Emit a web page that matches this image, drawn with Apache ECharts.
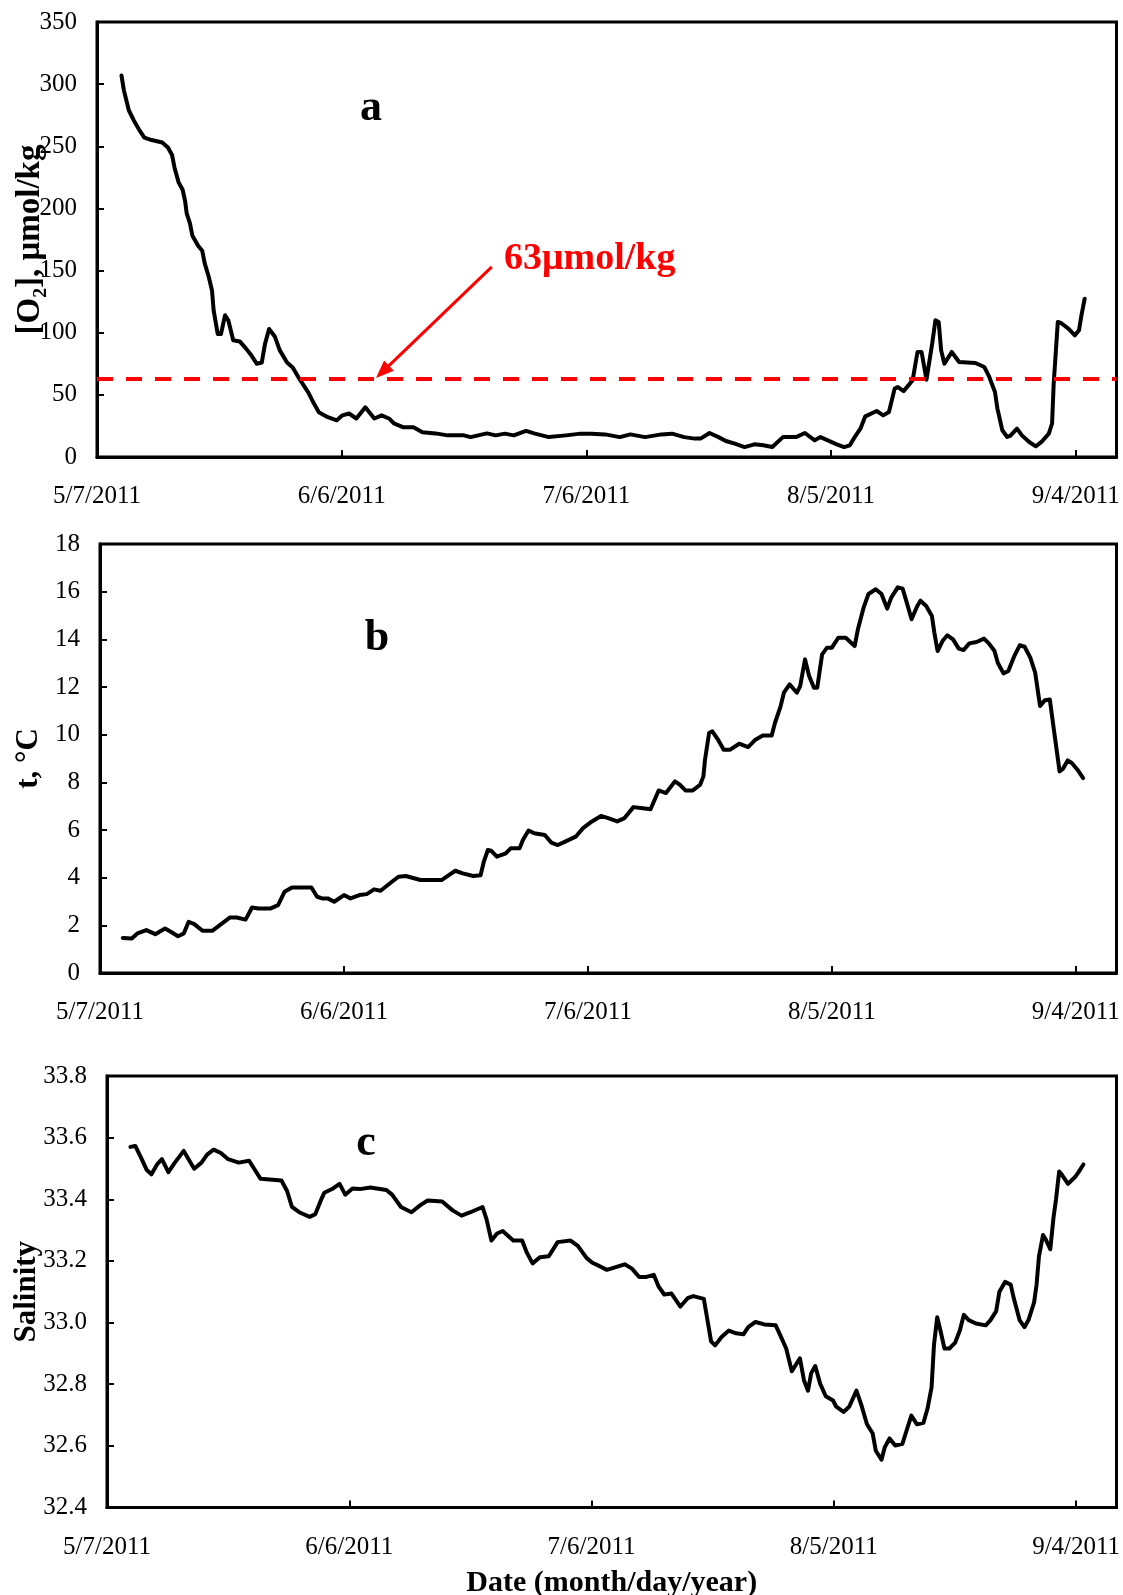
<!DOCTYPE html>
<html>
<head>
<meta charset="utf-8">
<title>Dissolved oxygen, temperature and salinity, May–September 2011</title>
<script src="https://cdn.jsdelivr.net/npm/echarts@6/dist/echarts.min.js"></script>
<style>
  html, body { margin: 0; padding: 0; background: #fff; }
  #chart { width: 1123px; height: 1595px; }
</style>
</head>
<body>
<div id="chart"></div>
<script>
// Time is counted in days since 5/7/2011.
const START_DATE = Date.UTC(2011, 4, 7);
const X_MAX_DAYS = 125;
const X_TICK_DAYS = 30;

// Panel a: dissolved oxygen, µmol/kg
const o2Days = [3.0, 3.3, 3.9, 4.5, 5.2, 5.8, 6.7, 8.0, 8.7, 9.2, 9.5, 10.0, 10.5, 10.8, 11.0, 11.4, 11.7, 12.4, 12.9, 13.2,
  13.7, 14.1, 14.3, 14.8, 15.2, 15.7, 16.1, 16.7, 17.5, 18.3, 18.9, 19.6, 20.2, 20.6, 21.1, 21.8, 22.4, 23.3, 24.0, 24.8,
  25.9, 26.6, 27.2, 28.3, 29.4, 30.1, 30.9, 31.8, 32.9, 34.0, 34.9, 35.8, 36.4, 37.5, 38.8, 39.9, 41.5, 43.0, 45.0, 45.8,
  47.8, 48.9, 50.0, 51.1, 52.6, 53.7, 55.4, 57.5, 59.3, 60.6, 62.3, 64.1, 65.4, 67.2, 69.2, 70.5, 72.0, 73.3, 74.0, 75.1,
  76.2, 77.1, 78.2, 79.4, 80.6, 81.7, 82.8, 84.1, 85.7, 86.8, 88.0, 88.7, 89.6, 90.7, 91.6, 92.3, 92.9, 93.6, 94.2, 95.6,
  96.4, 97.1, 97.8, 98.2, 98.9, 100.0, 100.6, 101.1, 101.7, 102.4, 102.8, 103.2, 103.5, 103.9, 104.8, 105.7, 107.7, 108.8, 109.4, 110.1,
  110.4, 111.0, 111.6, 112.0, 112.8, 113.4, 114.3, 115.1, 115.8, 116.7, 117.1, 117.3, 117.8, 118.2, 119.1, 119.9, 120.4, 120.7, 121.1];
const o2Values = [307, 295, 279, 271, 263, 257, 255, 253, 249, 243, 233, 221, 215, 206, 196, 188, 178, 170, 166, 156,
  145, 134, 118, 99, 99, 114, 110, 94, 93, 87, 82, 75, 76, 91, 103, 97, 86, 76, 72, 63,
  52, 43, 36, 32, 29.5, 33.5, 35, 31, 40, 31, 33.5, 31, 27, 24, 24, 20, 19, 17.4, 17.4, 16,
  19, 17.4, 18.8, 17.4, 21, 18.8, 16, 17.4, 18.8, 18.8, 18.2, 16, 18.2, 16, 18.2, 18.8, 16, 14.8, 14.8, 19.3,
  16, 12.9, 10.7, 8.0, 10.2, 9.4, 8.0, 16, 16, 19.3, 13.4, 16, 13.4, 10.2, 8.0, 9.4, 16, 22.8, 32.7, 37,
  33.5, 36.2, 55, 56.3, 53, 61.7, 84.5, 84.5, 62.2, 91.2, 110, 108.6, 85.8, 75.1, 84.5, 76.4, 75.6, 72.4, 64.4, 52.3,
  38.9, 21.5, 16.1, 17.2, 22.8, 17.4, 12.1, 8.6, 12.1, 18.8, 26.8, 59, 108.6, 107.8, 103.3, 97.9, 101.9, 114, 127.4];

// Hypoxia threshold and the arrow pointing at it (data coordinates: [day, µmol/kg])
const THRESHOLD = 63;
const THRESHOLD_TEXT = '63μmol/kg';
const arrowFrom = [48.4, 153];
const arrowTo = [35.0, 68.5];

// Panel b: temperature, °C
const tempDays = [2.8, 3.9, 4.6, 5.7, 6.8, 8.0, 8.7, 9.6, 10.3, 10.9, 11.6, 12.6, 13.8, 14.9, 16.0, 16.8, 17.9, 18.7, 19.5, 21.0,
  21.9, 22.7, 23.6, 26.0, 26.7, 27.3, 28.0, 28.8, 30.0, 30.8, 31.9, 32.8, 33.7, 34.5, 35.9, 36.7, 37.6, 39.4, 42.0, 42.9,
  43.7, 44.6, 45.9, 46.8, 47.2, 47.7, 48.1, 48.8, 49.9, 50.5, 51.6, 52.0, 52.7, 53.4, 54.7, 55.5, 56.3, 57.2, 58.5, 59.4,
  60.5, 61.6, 62.5, 63.6, 64.5, 65.6, 66.5, 67.7, 68.3, 68.7, 69.6, 70.7, 71.3, 72.0, 72.9, 73.8, 74.2, 74.4, 74.9, 75.3,
  76.0, 76.7, 77.5, 78.6, 79.7, 80.6, 81.5, 82.6, 83.0, 83.7, 84.1, 84.8, 85.7, 86.1, 86.7, 87.2, 87.8, 88.2, 88.8, 89.4,
  90.0, 90.8, 91.7, 92.8, 93.2, 93.9, 94.5, 95.4, 96.1, 96.8, 97.3, 98.1, 98.7, 99.2, 99.8, 100.5, 100.9, 101.6, 102.3, 102.6,
  103.0, 103.6, 104.2, 104.9, 105.6, 106.2, 106.9, 107.8, 108.7, 109.3, 110.0, 110.4, 111.1, 111.7, 112.4, 113.1, 113.7, 114.4, 115.0, 115.3,
  115.6, 116.2, 116.8, 117.3, 118.0, 118.4, 119.0, 119.5, 120.2, 120.9];
const tempValues = [1.47, 1.45, 1.66, 1.80, 1.63, 1.87, 1.73, 1.54, 1.66, 2.15, 2.05, 1.77, 1.77, 2.05, 2.33, 2.33, 2.24, 2.75, 2.71, 2.71,
  2.85, 3.41, 3.59, 3.59, 3.20, 3.13, 3.13, 2.99, 3.27, 3.13, 3.27, 3.31, 3.51, 3.45, 3.83, 4.04, 4.07, 3.90, 3.90, 4.11,
  4.29, 4.18, 4.07, 4.10, 4.67, 5.16, 5.13, 4.88, 5.02, 5.23, 5.23, 5.58, 5.98, 5.86, 5.79, 5.47, 5.37, 5.51, 5.72, 6.08,
  6.36, 6.59, 6.50, 6.36, 6.50, 6.96, 6.92, 6.87, 7.34, 7.66, 7.55, 8.04, 7.90, 7.66, 7.66, 7.90, 8.25, 8.95, 10.07, 10.14,
  9.79, 9.37, 9.37, 9.62, 9.48, 9.79, 9.96, 9.96, 10.49, 11.20, 11.76, 12.11, 11.76, 12.04, 13.16, 12.46, 11.97, 11.97, 13.37, 13.65,
  13.65, 14.07, 14.07, 13.72, 14.42, 15.33, 15.90, 16.10, 15.90, 15.29, 15.75, 16.18, 16.13, 15.55, 14.84, 15.40, 15.62, 15.40, 14.98, 14.28,
  13.51, 13.93, 14.17, 14.00, 13.61, 13.55, 13.83, 13.89, 14.03, 13.83, 13.51, 13.02, 12.57, 12.67, 13.27, 13.75, 13.69, 13.23, 12.60, 11.90,
  11.20, 11.45, 11.48, 10.21, 8.46, 8.56, 8.92, 8.81, 8.53, 8.18];

// Panel c: salinity
const salDays = [2.9, 3.5, 4.2, 4.9, 5.5, 6.2, 6.8, 7.6, 8.4, 9.5, 10.1, 10.8, 11.7, 12.4, 13.2, 14.1, 15.0, 16.3, 17.6, 18.3,
  19.0, 21.6, 22.3, 22.9, 23.8, 25.1, 25.8, 26.5, 26.9, 28.0, 28.8, 29.5, 30.4, 31.3, 32.6, 34.6, 35.3, 36.4, 37.7, 38.8,
  39.7, 41.5, 42.8, 43.9, 45.0, 46.5, 47.0, 47.6, 48.3, 49.0, 50.3, 51.4, 52.0, 52.7, 53.6, 54.7, 55.8, 57.4, 58.3, 59.4,
  60.1, 61.0, 61.9, 63.0, 64.1, 65.0, 65.9, 66.8, 67.7, 68.3, 69.0, 69.9, 71.0, 71.9, 72.6, 73.9, 74.2, 74.8, 75.3, 76.1,
  77.0, 77.9, 78.8, 79.4, 80.3, 81.4, 82.8, 83.4, 84.1, 84.8, 85.2, 85.8, 86.3, 86.8, 87.2, 87.7, 88.3, 89.0, 89.9, 90.3,
  91.2, 91.9, 92.8, 93.4, 94.1, 94.8, 95.2, 95.9, 96.3, 96.9, 97.6, 98.5, 98.9, 99.6, 100.3, 101.1, 101.6, 102.1, 102.4, 102.8,
  103.2, 103.7, 104.3, 105.0, 105.6, 106.1, 106.7, 107.6, 108.8, 109.4, 110.1, 110.5, 111.2, 111.9, 112.3, 113.0, 113.6, 114.1, 114.8, 115.1,
  115.4, 115.9, 116.2, 116.8, 117.2, 117.5, 117.9, 118.2, 119.0, 119.9, 120.3, 120.9];
const salValues = [33.570, 33.573, 33.536, 33.496, 33.481, 33.513, 33.530, 33.488, 33.519, 33.557, 33.530, 33.499, 33.519, 33.545, 33.561, 33.550, 33.530, 33.519, 33.525, 33.496,
  33.467, 33.461, 33.427, 33.375, 33.358, 33.343, 33.352, 33.398, 33.421, 33.435, 33.450, 33.415, 33.435, 33.433, 33.438, 33.430, 33.415, 33.375, 33.358, 33.381,
  33.396, 33.393, 33.364, 33.347, 33.358, 33.375, 33.335, 33.266, 33.289, 33.297, 33.266, 33.266, 33.226, 33.192, 33.212, 33.215, 33.261, 33.266, 33.249, 33.209,
  33.194, 33.183, 33.171, 33.180, 33.189, 33.175, 33.148, 33.148, 33.155, 33.117, 33.091, 33.094, 33.052, 33.079, 33.086, 33.077, 33.031, 32.939, 32.926, 32.953,
  32.974, 32.965, 32.962, 32.985, 33.002, 32.994, 32.991, 32.957, 32.916, 32.842, 32.859, 32.884, 32.813, 32.779, 32.836, 32.859, 32.802, 32.761, 32.747, 32.727,
  32.710, 32.727, 32.779, 32.733, 32.670, 32.641, 32.584, 32.555, 32.595, 32.624, 32.601, 32.607, 32.641, 32.698, 32.670, 32.675, 32.721, 32.790, 32.928, 33.017,
  32.974, 32.916, 32.916, 32.934, 32.974, 33.025, 33.008, 32.997, 32.991, 33.008, 33.037, 33.100, 33.132, 33.123, 33.077, 33.008, 32.985, 33.008, 33.066, 33.123,
  33.215, 33.284, 33.272, 33.238, 33.341, 33.398, 33.490, 33.481, 33.450, 33.473, 33.488, 33.513];

const zip = (xs, ys) => xs.map((x, i) => [x, ys[i]]);

const SERIF = '"Liberation Serif", "Times New Roman", serif';

function dayToDate(d) {
  const dt = new Date(START_DATE + Math.round(d) * 86400000);
  return (dt.getUTCMonth() + 1) + '/' + dt.getUTCDate() + '/' + dt.getUTCFullYear();
}

function makeXAxis(gridIndex, extra) {
  return Object.assign({
    gridIndex: gridIndex,
    type: 'value',
    min: 0,
    max: X_MAX_DAYS,
    interval: X_TICK_DAYS,
    nameMoveOverlap: false,
    axisLine: { show: true, lineStyle: { color: '#000', width: 3 } },
    axisTick: { show: true, inside: true, length: 7, lineStyle: { color: '#000', width: 2 } },
    axisLabel: {
      show: true, margin: 27, color: '#000', fontFamily: SERIF, fontSize: 25,
      showMaxLabel: false, formatter: dayToDate
    },
    splitLine: { show: false }
  }, extra || {});
}

function makeYAxis(gridIndex, min, max, interval, name, nameGap, nameSize, fmt) {
  return {
    gridIndex: gridIndex,
    type: 'value',
    min: min,
    max: max,
    interval: interval,
    name: name,
    nameLocation: 'middle',
    nameRotate: 90,
    nameGap: nameGap,
    nameMoveOverlap: false,
    nameTextStyle: { color: '#000', fontFamily: SERIF, fontWeight: 'bold', fontSize: nameSize },
    axisLine: { show: true, lineStyle: { color: '#000', width: 3 } },
    axisTick: { show: true, inside: true, length: 7, lineStyle: { color: '#000', width: 2 } },
    axisLabel: { show: true, margin: 20, color: '#000', fontFamily: SERIF, fontSize: 25, formatter: fmt },
    splitLine: { show: false }
  };
}

function lineSeries(idx, data, extra) {
  return Object.assign({
    type: 'line',
    xAxisIndex: idx,
    yAxisIndex: idx,
    data: data,
    showSymbol: false,
    symbol: 'none',
    smooth: false,
    lineStyle: { color: '#000', width: 4, cap: 'round', join: 'round' },
    silent: true,
    z: 2
  }, extra || {});
}

const gridFrame = {
  show: true, borderColor: '#000', borderWidth: 3, backgroundColor: 'transparent',
  containLabel: false, outerBoundsMode: 'none'
};

const option = {
  animation: false,
  backgroundColor: '#fff',
  grid: [
    Object.assign({ left: 97, top: 22, width: 1019.5, height: 435 }, gridFrame),
    Object.assign({ left: 100, top: 544, width: 1016.5, height: 429 }, gridFrame),
    Object.assign({ left: 107, top: 1076, width: 1009.5, height: 431.5 }, gridFrame)
  ],
  xAxis: [
    makeXAxis(0),
    makeXAxis(1),
    makeXAxis(2, {
      name: 'Date (month/day/year)',
      nameLocation: 'middle',
      nameGap: 61,
      nameTextStyle: { color: '#000', fontFamily: SERIF, fontWeight: 'bold', fontSize: 30 }
    })
  ],
  yAxis: [
    makeYAxis(0, 0, 350, 50, '[O₂], μmol/kg', 50, 33),
    makeYAxis(1, 0, 18, 2, 't, °C', 56, 31),
    makeYAxis(2, 32.4, 33.8, 0.2, 'Salinity', 65, 31, v => v.toFixed(1))
  ],
  series: [
    lineSeries(0, zip(o2Days, o2Values), {
      markLine: {
        silent: true,
        animation: false,
        symbol: ['none', 'none'],
        label: { show: false },
        data: [
          {
            yAxis: THRESHOLD,
            lineStyle: { color: '#ff0000', width: 4, type: [16, 13] }
          },
          [
            { coord: arrowFrom, symbol: 'none', lineStyle: { color: '#ff0000', width: 3, type: 'solid' } },
            { coord: arrowTo, symbol: 'triangle', symbolSize: [14, 18], lineStyle: { color: '#ff0000', width: 3, type: 'solid' } }
          ]
        ]
      }
    }),
    lineSeries(1, zip(tempDays, tempValues)),
    lineSeries(2, zip(salDays, salValues))
  ],
  graphic: [
    { type: 'text', x: 371, y: 108.5, silent: true,
      style: { text: 'a', font: 'bold 44px ' + SERIF, fill: '#000', textAlign: 'center', textVerticalAlign: 'middle', align: 'center', verticalAlign: 'middle' } },
    { type: 'text', x: 377, y: 639, silent: true,
      style: { text: 'b', font: 'bold 44px ' + SERIF, fill: '#000', textAlign: 'center', textVerticalAlign: 'middle', align: 'center', verticalAlign: 'middle' } },
    { type: 'text', x: 366, y: 1144, silent: true,
      style: { text: 'c', font: 'bold 44px ' + SERIF, fill: '#000', textAlign: 'center', textVerticalAlign: 'middle', align: 'center', verticalAlign: 'middle' } },
    { type: 'text', x: 504, y: 259, silent: true,
      style: { text: THRESHOLD_TEXT, font: 'bold 38px ' + SERIF, fill: '#ff0000', textAlign: 'left', textVerticalAlign: 'middle', align: 'left', verticalAlign: 'middle' } }
  ]
};

const chart = echarts.init(document.getElementById('chart'), null, { renderer: 'canvas', width: 1123, height: 1595 });
chart.setOption(option);
</script>
</body>
</html>
